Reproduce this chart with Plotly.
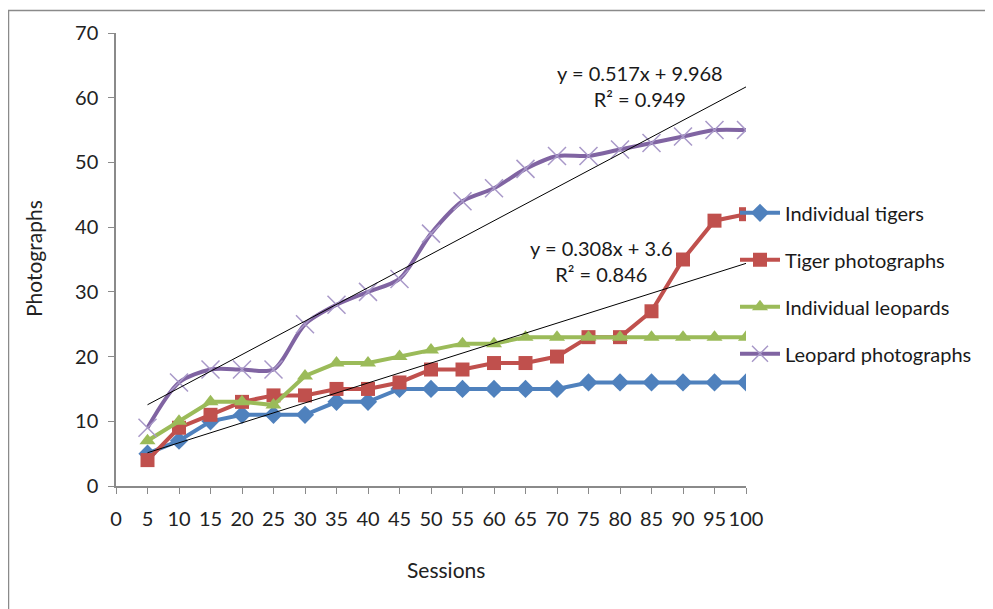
import plotly.graph_objects as go

sessions = [5, 10, 15, 20, 25, 30, 35, 40, 45, 50, 55, 60, 65, 70, 75, 80, 85, 90, 95, 100]
individual_tigers = [5, 7, 10, 11, 11, 11, 13, 13, 15, 15, 15, 15, 15, 15, 16, 16, 16, 16, 16, 16]
tiger_photographs = [4, 9, 11, 13, 14, 14, 15, 15, 16, 18, 18, 19, 19, 20, 23, 23, 27, 35, 41, 42]
individual_leopards = [7, 10, 13, 13, 12.5, 17, 19, 19, 20, 21, 22, 22, 23, 23, 23, 23, 23, 23, 23, 23]
leopard_photographs = [9, 16, 18, 18, 18, 25, 28, 30, 32, 39, 44, 46, 49, 51, 51, 52, 53, 54, 55, 55]

trend_leopard = (0.517, 9.968, "y = 0.517x + 9.968<br>R² = 0.949")
trend_tiger = (0.308, 3.6, "y = 0.308x + 3.6<br>R² = 0.846")

x_ticks = list(range(0, 101, 5))
y_ticks = list(range(0, 71, 10))

FONT = "Lato, 'Open Sans', sans-serif"
OFF = 8  # browser default body margin
W, H = 993 - OFF, 609 - OFF
L, R, T, B = 116 - OFF, 746 - OFF, 31 - OFF, 486 - OFF


def px(xp):
    return (xp - OFF - L) / (R - L)


def py(yp):
    return (B - (yp - OFF)) / (B - T)


fig = go.Figure()

series = [
    ("Individual tigers", individual_tigers, "#4F81BD", "diamond", 14, "linear"),
    ("Tiger photographs", tiger_photographs, "#C0504D", "square", 14, "linear"),
    ("Individual leopards", individual_leopards, "#9BBB59", "triangle-up", 14, "linear"),
    ("Leopard photographs", leopard_photographs, "#8064A2", "x-thin", 18, "spline"),
]
for i, (name, vals, col, sym, sz, shape) in enumerate(series):
    if sym == "x-thin":
        marker = dict(symbol=sym, size=sz, line=dict(color="#A898C8", width=1.5), color="#A898C8")
    else:
        marker = dict(symbol=sym, size=sz, color=col)
    fig.add_trace(go.Scatter(
        x=sessions, y=vals, name=name, mode="lines+markers",
        line=dict(color=col, width=4, shape=shape, smoothing=0.8),
        marker=marker, legendgroup=f"g{i}",
    ))

for slope, icpt, _ in (trend_leopard, trend_tiger):
    xs = [sessions[0], sessions[-1]]
    fig.add_trace(go.Scatter(
        x=xs, y=[slope * v + icpt for v in xs], mode="lines",
        line=dict(color="#000000", width=1), showlegend=False, hoverinfo="skip",
    ))

fig.add_annotation(x=83.2, y=61.8, text=trend_leopard[2], showarrow=False,
                   font=dict(family=FONT, size=20, color="#1a1a1a"), align="center")
fig.add_annotation(x=77.1, y=34.7, text=trend_tiger[2], showarrow=False,
                   font=dict(family=FONT, size=20, color="#1a1a1a"), align="center")

# axis titles
fig.add_annotation(xref="paper", yref="paper", x=px(33), y=py(258),
                   xanchor="center", yanchor="middle",
                   text="Photographs", textangle=-90, showarrow=False,
                   font=dict(family=FONT, size=21, color="#222"))
fig.add_annotation(xref="paper", yref="paper", x=px(446), y=py(570),
                   xanchor="center", yanchor="middle",
                   text="Sessions", showarrow=False,
                   font=dict(family=FONT, size=21, color="#222"))

# outer frame (top and left edges)
fig.add_shape(type="line", xref="paper", yref="paper", x0=px(8), x1=px(1000), y0=py(8.5), y1=py(8.5),
              line=dict(color="#8a8a8a", width=1.5))
fig.add_shape(type="line", xref="paper", yref="paper", x0=px(8.5), x1=px(8.5), y0=py(8), y1=py(620),
              line=dict(color="#8a8a8a", width=1.5))

axis_common = dict(showgrid=False, zeroline=False, showline=True, linecolor="#8a8a8a", linewidth=1.5,
                   ticks="outside", ticklen=6, tickcolor="#8a8a8a", tickwidth=1,
                   tickfont=dict(family=FONT, size=20, color="#222"))

fig.update_xaxes(range=[0, 100], tickvals=x_ticks, ticktext=[str(v) for v in x_ticks],
                 ticklabelstandoff=8, **axis_common)
fig.update_yaxes(range=[0, 70], tickvals=y_ticks, ticktext=[str(v) for v in y_ticks],
                 ticklabelstandoff=6, **axis_common)

fig.update_layout(
    width=W, height=H,
    margin=dict(l=L, r=W - R, t=T, b=H - B, pad=0),
    paper_bgcolor="white", plot_bgcolor="white",
    showlegend=True,
    legend=dict(x=px(735), y=py(192), xanchor="left", yanchor="top",
                font=dict(family=FONT, size=20, color="#1a1a1a"),
                bgcolor="rgba(0,0,0,0)", tracegroupgap=18, itemwidth=40),
)

fig.write_html("out.html")
